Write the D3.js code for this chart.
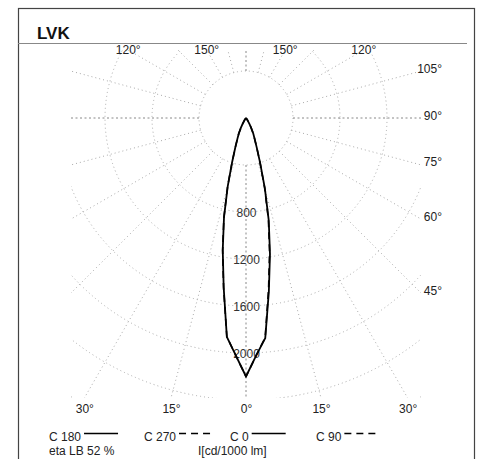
<!DOCTYPE html>
<html>
<head>
<meta charset="utf-8">
<script src="https://cdn.jsdelivr.net/npm/d3@7"></script>
<style>
    body { margin: 0; background: #fff; }
    svg { display: block; font-family: "Liberation Sans", Arial, sans-serif; }
</style>
</head>
<body>
<svg id="lvk" width="481" height="459"></svg>
<script>
// gamma angles (deg) and intensities (cd/1000 lm)
const gammaAngles = [0, 2.5, 5, 7.5, 10, 12.5, 15, 17.5, 20, 22.5, 25, 27.5, 30, 35, 40, 45, 50];
const c0Values    = [2200, 2020, 1880, 1490, 1175, 895, 620, 400, 268, 192, 146, 96, 60, 20, 5, 0, 0];
const c180Values  = [2200, 2020, 1870, 1455, 1140, 865, 600, 390, 265, 190, 145, 95, 60, 20, 5, 0, 0];
const c90Values   = [2200, 2020, 1875, 1470, 1155, 880, 610, 395, 266, 191, 145, 95, 60, 20, 5, 0, 0];
const c270Values  = [2200, 2020, 1870, 1460, 1145, 870, 605, 392, 265, 190, 145, 95, 60, 20, 5, 0, 0];

const ringValues = [400, 800, 1200, 1600, 2000, 2400, 2800, 3200];
const ringLabels = [800, 1200, 1600, 2000];
const spokeAngles = [0, 15, 30, 45, 60, 75, 90, 105, 120, 135, 150, 165, 180];
const topLabels = [{ a: 120, s: -1 }, { a: 150, s: -1 }, { a: 150, s: 1 }, { a: 120, s: 1 }];
const rightLabels = [105, 90, 75, 60, 45];
const bottomLabels = [{ a: 30, s: -1 }, { a: 15, s: -1 }, { a: 0, s: 1 }, { a: 15, s: 1 }, { a: 30, s: 1 }];

const svg = d3.select("#lvk");

const cx = 246, cy = 118;
const box = { left: 71, right: 421, top: 50, bottom: 398 };

const rScale = d3.scaleLinear().domain([0, 2400]).range([0, 282]);

// frame + title
svg.append("rect")
    .attr("x", 18.5).attr("y", 8.5)
    .attr("width", 456).attr("height", 470)
    .attr("fill", "none").attr("stroke", "#444").attr("stroke-width", 1.2);

svg.append("line")
    .attr("x1", 18).attr("x2", 467).attr("y1", 43.5).attr("y2", 43.5)
    .attr("stroke", "#888").attr("stroke-width", 1);

svg.append("text")
    .attr("x", 37).attr("y", 38.5)
    .attr("font-size", 17).attr("font-weight", "bold").attr("fill", "#111")
    .text("LVK");

svg.append("clipPath").attr("id", "gridclip")
    .append("rect")
    .attr("x", box.left).attr("y", box.top)
    .attr("width", box.right - box.left).attr("height", box.bottom - box.top);

const grid = svg.append("g").attr("clip-path", "url(#gridclip)");

// rings
grid.selectAll("circle.ring")
    .data(ringValues)
    .enter()
    .append("circle")
    .attr("class", "ring")
    .attr("cx", cx).attr("cy", cy)
    .attr("r", d => rScale(d))
    .attr("fill", "none")
    .attr("stroke", "#aaa")
    .attr("stroke-width", 1)
    .attr("stroke-dasharray", "1,3");

// spokes, both sides, starting on the 400 ring
function dirOf(angle, side) {
    const t = angle * Math.PI / 180;
    return [side * Math.sin(t), Math.cos(t)];
}

const spokes = [];
spokeAngles.forEach(a => {
    spokes.push({ a: a, s: 1 });
    if (a !== 0 && a !== 180) spokes.push({ a: a, s: -1 });
});

grid.selectAll("line.spoke")
    .data(spokes)
    .enter()
    .append("line")
    .attr("class", "spoke")
    .attr("x1", d => cx + dirOf(d.a, d.s)[0] * rScale(400))
    .attr("y1", d => cy + dirOf(d.a, d.s)[1] * rScale(400))
    .attr("x2", d => cx + dirOf(d.a, d.s)[0] * 600)
    .attr("y2", d => cy + dirOf(d.a, d.s)[1] * 600)
    .attr("stroke", d => (d.a % 90 === 0) ? "#888" : "#aaa")
    .attr("stroke-width", 1)
    .attr("stroke-dasharray", d => (d.a % 90 === 0) ? "2,2.5" : "1,3");

// where a spoke leaves the grid box
function spokeEnd(angle, side) {
    const [dx, dy] = dirOf(angle, side);
    let t = Infinity;
    if (dx > 1e-9) t = Math.min(t, (box.right - cx) / dx);
    if (dx < -1e-9) t = Math.min(t, (box.left - cx) / dx);
    if (dy > 1e-9) t = Math.min(t, (box.bottom - cy) / dy);
    if (dy < -1e-9) t = Math.min(t, (box.top - cy) / dy);
    return [cx + dx * t, cy + dy * t];
}

const labelG = svg.append("g").attr("font-size", 12).attr("fill", "#222");

labelG.selectAll("text.top")
    .data(topLabels)
    .enter()
    .append("text")
    .attr("x", d => spokeEnd(d.a, d.s)[0])
    .attr("y", d => spokeEnd(d.a, d.s)[1] + 4)
    .attr("text-anchor", "middle")
    .text(d => d.a + "°");

labelG.selectAll("text.right")
    .data(rightLabels)
    .enter()
    .append("text")
    .attr("x", 442)
    .attr("y", d => spokeEnd(d, 1)[1] + 1.5)
    .attr("text-anchor", "end")
    .text(d => d + "°");

labelG.selectAll("text.bottom")
    .data(bottomLabels)
    .enter()
    .append("text")
    .attr("x", d => spokeEnd(d.a, d.s)[0] + 0.5)
    .attr("y", box.bottom + 15)
    .attr("text-anchor", "middle")
    .text(d => d.a + "°");

// curves: left half (C180 / C270) then right half (C0 / C90)
function curvePoints(leftVals, rightVals) {
    const pts = [];
    for (let i = gammaAngles.length - 1; i >= 0; i--) {
        pts.push([Math.PI + gammaAngles[i] * Math.PI / 180, rScale(leftVals[i])]);
    }
    for (let i = 1; i < gammaAngles.length; i++) {
        pts.push([Math.PI - gammaAngles[i] * Math.PI / 180, rScale(rightVals[i])]);
    }
    return pts;
}

const radial = d3.lineRadial()
    .angle(d => d[0])
    .radius(d => d[1])
    .curve(d3.curveLinear);

const plot = svg.append("g").attr("transform", `translate(${cx},${cy})`);

plot.append("path")
    .attr("d", radial(curvePoints(c270Values, c90Values)))
    .attr("fill", "none")
    .attr("stroke", "#000")
    .attr("stroke-width", 1.6)
    .attr("stroke-dasharray", "7,5");

plot.append("path")
    .attr("d", radial(curvePoints(c180Values, c0Values)))
    .attr("fill", "none")
    .attr("stroke", "#000")
    .attr("stroke-width", 1.8)
    .attr("stroke-linejoin", "round");

// ring values on the 0° axis
labelG.selectAll("text.ring")
    .data(ringLabels)
    .enter()
    .append("text")
    .attr("x", cx + 0.5)
    .attr("y", d => cy + rScale(d) + 4.5)
    .attr("text-anchor", "middle")
    .attr("fill", "#333")
    .text(d => d);

// legend
const legendItems = [
    { label: "C 180", x: 49, dash: null },
    { label: "C 270", x: 144, dash: "7,5" },
    { label: "C 0", x: 230, dash: null },
    { label: "C 90", x: 316, dash: "7,5" }
];

const legend = svg.append("g").attr("font-size", 12).attr("fill", "#222");

legendItems.forEach(item => {
    const t = legend.append("text")
        .attr("x", item.x).attr("y", 440.5)
        .text(item.label);
    const w = t.node().getComputedTextLength();
    legend.append("line")
        .attr("x1", item.x + w + 3).attr("x2", item.x + w + 37)
        .attr("y1", 433.5).attr("y2", 433.5)
        .attr("stroke", "#000").attr("stroke-width", 1.5)
        .attr("stroke-dasharray", item.dash);
});

legend.append("text").attr("x", 49).attr("y", 455).text("eta LB 52 %");
legend.append("text").attr("x", 198).attr("y", 455).text("I[cd/1000 lm]");
</script>
</body>
</html>
